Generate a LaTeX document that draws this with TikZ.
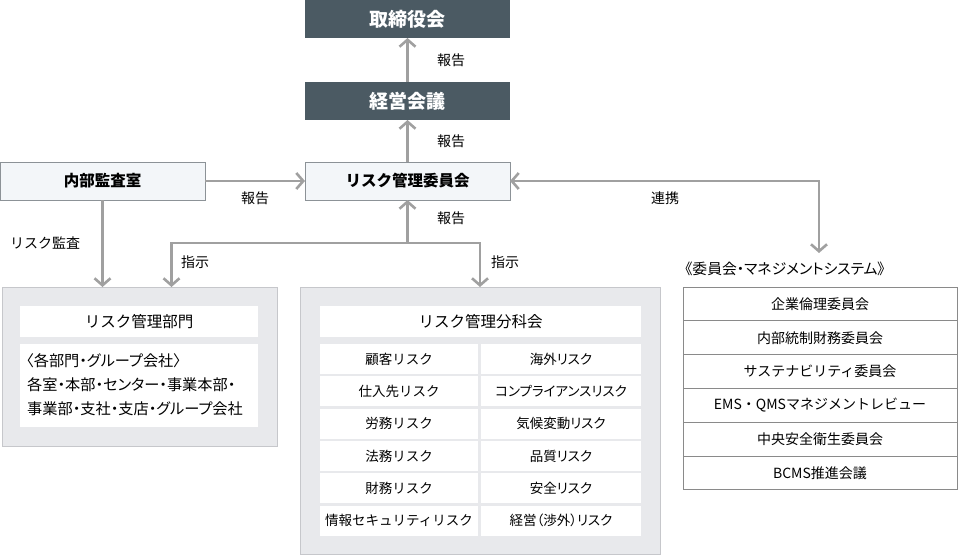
\documentclass[tikz,border=0pt]{standalone}
\usepackage{fontspec}
\setmainfont{Noto Sans CJK JP}
\newfontfamily\propfont[RawFeature=+palt]{Noto Sans CJK JP}
\usetikzlibrary{arrows.meta,positioning}

\definecolor{headfill}{HTML}{4B5A63}
\definecolor{lightfill}{HTML}{F3F6F9}
\definecolor{lightline}{HTML}{8C9297}
\definecolor{panelfill}{HTML}{E8E9EC}
\definecolor{panelline}{HTML}{C6C7CB}
\definecolor{flowline}{HTML}{A0A0A0}
\definecolor{listline}{HTML}{8A8A8A}

\newcommand{\fs}[1]{\fontsize{#1}{#1}\selectfont}

\tikzset{
  box/.style={anchor=north west, inner sep=0pt, outer sep=0pt},
  headbox/.style={box, fill=headfill, text=white, minimum width=205pt, minimum height=38pt, font=\fs{19}\bfseries},
  unitbox/.style={box, fill=lightfill, draw=lightline, line width=0.8pt, minimum width=205pt, minimum height=38pt, font=\fs{15.5}\bfseries},
  panel/.style={box, fill=panelfill, draw=panelline, line width=0.8pt},
  whitebox/.style={box, fill=white},
  riskcell/.style={box, fill=white, minimum height=30pt, font=\fs{13.5}},
  listrow/.style={box, fill=white, draw=listline, line width=0.8pt, minimum width=274pt, minimum height=33.8pt, font=\fs{14}},
  flow/.style={draw=flowline, line width=2.6pt, >={Straight Barb[length=7pt,width=16pt]}},
  lbl/.style={font=\fs{14}, inner sep=0pt}
}

\begin{document}
\begin{tikzpicture}[x=1pt, y=-1pt]

  \useasboundingbox (0,0) rectangle (960,554);

  % top of the chart
  \node[headbox] (board) at (305,0) {取締役会};
  \node[headbox] (exec) at (305,82) {経営会議};
  \node[unitbox] (rmc) at (305,162) {リスク管理委員会};
  \node[unitbox] (audit) at (0,162) {内部監査室};

  % left panel
  \node[panel, minimum width=275pt, minimum height=159pt] (dept) at (2,287) {};
  \node[whitebox, minimum width=238pt, minimum height=31pt, font=\fs{15.5}] (deptT) at (20,306) {リスク管理部門};
  \node[whitebox, minimum width=238pt, minimum height=83pt] (deptB) at (20,344) {};
  \node[lbl, anchor=west, font=\propfont\fs{15.2}] (deptL1) at (26,361) {〈各部門・グループ会社〉};
  \node[lbl, anchor=west, font=\propfont\fs{15.2}] (deptL2) at (27,385) {各室・本部・センター・事業本部・};
  \node[lbl, anchor=west, font=\propfont\fs{15.2}] (deptL3) at (27,409) {事業部・支社・支店・グループ会社};

  % middle panel
  \node[panel, minimum width=360pt, minimum height=267pt] (sub) at (300,287) {};
  \node[whitebox, minimum width=321pt, minimum height=31pt, font=\fs{15.5}] (subT) at (320,306) {リスク管理分科会};
  \foreach \l/\r [count=\i from 0] in {顧客リスク/海外リスク, 仕入先リスク/コンプライアンスリスク,
      労務リスク/気候変動リスク, 法務リスク/品質リスク, 財務リスク/安全リスク,
      情報セキュリティリスク/経営（渉外）リスク} {
    \node[riskcell, minimum width=158pt] (cl\i) at (320,344+32.3*\i) {\l};
    \node[riskcell, minimum width=160pt, font=\propfont\fs{13.5}] (cr\i) at (481,344+32.3*\i) {\r};
  }

  % right list
  \node[lbl, font=\propfont\fs{14.8}] (sysT) at (785,269) {《委員会・マネジメントシステム》};
  \foreach \t [count=\i from 0] in {企業倫理委員会, 内部統制財務委員会, サステナビリティ委員会,
      EMS・QMSマネジメントレビュー, 中央安全衛生委員会, BCMS推進会議} {
    \node[listrow] (sys\i) at (683,287+33.8*\i) {\t};
  }

  % connectors
  \coordinate (hub) at (407.5,243);
  \coordinate (renkei) at (819,253);

  \draw[flow, ->] (exec.north) -- (board.south);
  \draw[flow, ->] (rmc.north) -- (exec.south);
  \draw[flow, ->] (audit.east) -- (rmc.west);
  \draw[flow, ->] (audit.south) -- (audit.south |- dept.north);
  \draw[flow, ->] (hub) -- (rmc.south);
  \draw[flow, ->] (hub) -| ([xshift=32pt]dept.north);
  \draw[flow, ->] (hub) -| (sub.north);
  \draw[flow, <->] (rmc.east) -| (renkei);

  % labels
  \node[lbl] (hoL1) at (451,60) {報告};
  \node[lbl] (hoL2) at (451,141) {報告};
  \node[lbl] (hoL3) at (451,218) {報告};
  \node[lbl] (hoL4) at (255,198) {報告};
  \node[lbl] (kansaL) at (45,243) {リスク監査};
  \node[lbl] (sijiL1) at (195,262) {指示};
  \node[lbl] (sijiL2) at (505,262) {指示};
  \node[lbl] (renL) at (665,198) {連携};

\end{tikzpicture}
\end{document}
